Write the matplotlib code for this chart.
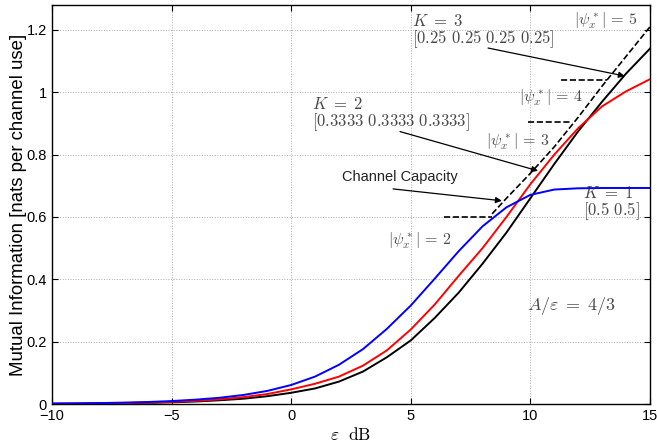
import matplotlib
matplotlib.use("Agg")
import matplotlib.pyplot as plt

# epsilon in dB, 1 dB steps
eps_db = list(range(-10, 16))

# K = 1, [0.5 0.5]
mi_k1 = [0.0014, 0.002, 0.003, 0.0045, 0.0065, 0.0095, 0.014, 0.02, 0.029, 0.042,
         0.061, 0.088, 0.126, 0.176, 0.241, 0.316, 0.402, 0.49, 0.57, 0.631,
         0.671, 0.688, 0.692, 0.693, 0.693, 0.693]
# K = 2, [0.3333 0.3333 0.3333]
mi_k2 = [0.001, 0.0015, 0.0022, 0.0033, 0.0048, 0.007, 0.010, 0.015, 0.022, 0.032,
         0.047, 0.065, 0.088, 0.123, 0.172, 0.239, 0.319, 0.411, 0.50, 0.60,
         0.705, 0.80, 0.885, 0.955, 1.003, 1.042]
# K = 3, [0.25 0.25 0.25 0.25]
mi_k3 = [0.0008, 0.0012, 0.0018, 0.0026, 0.0038, 0.0055, 0.008, 0.012, 0.017, 0.025,
         0.036, 0.05, 0.072, 0.104, 0.15, 0.204, 0.276, 0.357, 0.45, 0.55,
         0.66, 0.77, 0.875, 0.97, 1.06, 1.14]

# channel capacity (where it leaves the binary curve)
cap_db = [8.4, 9, 10, 11, 12, 13, 14, 15]
cap_mi = [0.61, 0.66, 0.74, 0.825, 0.92, 1.02, 1.115, 1.21]

# level marks where the number of mass points changes
lvl_y = [0.6, 0.906, 1.039]
lvl_x0 = [6.4, 9.9, 11.3]
lvl_x1 = [8.4, 11.75, 13.2]

plt.rcParams['mathtext.fontset'] = 'cm'
plt.rcParams['font.family'] = ['Liberation Sans', 'DejaVu Sans']

fig = plt.figure(figsize=(6.57, 4.43), dpi=100)
ax = fig.add_axes([0.0791, 0.088, 0.9102, 0.9007])

ax.plot(cap_db, cap_mi, 'k--', lw=1.2, zorder=2)
for y, a, b in zip(lvl_y, lvl_x0, lvl_x1):
    ax.plot([a, b], [y, y], 'k--', lw=1.2, zorder=2)

ax.plot(eps_db, mi_k3, color='k', lw=1.4, zorder=3)
ax.plot(eps_db, mi_k2, color='r', lw=1.4, zorder=3)
ax.plot(eps_db, mi_k1, color='b', lw=1.4, zorder=4)

ax.set_xlim(-10, 15)
ax.set_ylim(0, 1.28)
ax.set_xticks([-10, -5, 0, 5, 10, 15])
ax.set_yticks([0, 0.2, 0.4, 0.6, 0.8, 1.0, 1.2])
ax.set_yticklabels(['0', '0.2', '0.4', '0.6', '0.8', '1', '1.2'])
ax.set_xticklabels(['\u221210', '\u22125', '0', '5', '10', '15'])
ax.tick_params(direction='in', top=True, right=True, labelsize=10.5, length=4)
ax.grid(True, linestyle=':', color='#aaaaaa', lw=0.7)
for s in ax.spines.values():
    s.set_linewidth(1.0)

ax.set_xlabel(r'$\varepsilon\ \ \mathrm{dB}$', fontsize=12.5, labelpad=2)
ax.set_ylabel('Mutual Information [nats per channel use]', fontsize=13.4, labelpad=0)

tc = '#4a4a4a'
fs = 11.5
eq = r'\;=\;'
peq = r'\,=\,'
k_labels = [(5.05, 1.194, r'$K' + eq + r'3$' + '\n' + r'$[0.25\ 0.25\ 0.25\ 0.25]$'),
            (0.87, 0.929, r'$K' + eq + r'2$' + '\n' + r'$[0.3333\ 0.3333\ 0.3333]$'),
            (12.2, 0.642, r'$K' + eq + r'1$' + '\n' + r'$[0.5\ 0.5]$')]
for x, y, s in k_labels:
    ax.text(x, y, s, color=tc, fontsize=12, va='center', ha='left', linespacing=0.95)

ax.text(13.14, 1.229, r'$|\psi_x^*|' + peq + r'5$', color=tc, fontsize=fs, ha='center', va='center')
ax.text(10.84, 0.981, r'$|\psi_x^*|' + peq + r'4$', color=tc, fontsize=fs, ha='center', va='center')
ax.text(9.46, 0.842, r'$|\psi_x^*|' + peq + r'3$', color=tc, fontsize=fs, ha='center', va='center')
ax.text(5.38, 0.523, r'$|\psi_x^*|' + peq + r'2$', color=tc, fontsize=fs, ha='center', va='center')
ax.text(11.72, 0.313, r'$A/\varepsilon' + eq + r'4/3$', color=tc, fontsize=13, ha='center', va='center')
ax.text(4.53, 0.729, 'Channel Capacity', color='#222222', fontsize=10.5, ha='center', va='center')

arw = dict(arrowstyle='-|>', color='k', lw=0.9, mutation_scale=9, shrinkA=0, shrinkB=0)
ax.annotate('', xy=(13.95, 1.052), xytext=(8.23, 1.142), arrowprops=arw)
ax.annotate('', xy=(10.32, 0.748), xytext=(4.55, 0.874), arrowprops=arw)
ax.annotate('', xy=(8.81, 0.652), xytext=(4.26, 0.69), arrowprops=arw)

fig.savefig('out.png', dpi=100)
